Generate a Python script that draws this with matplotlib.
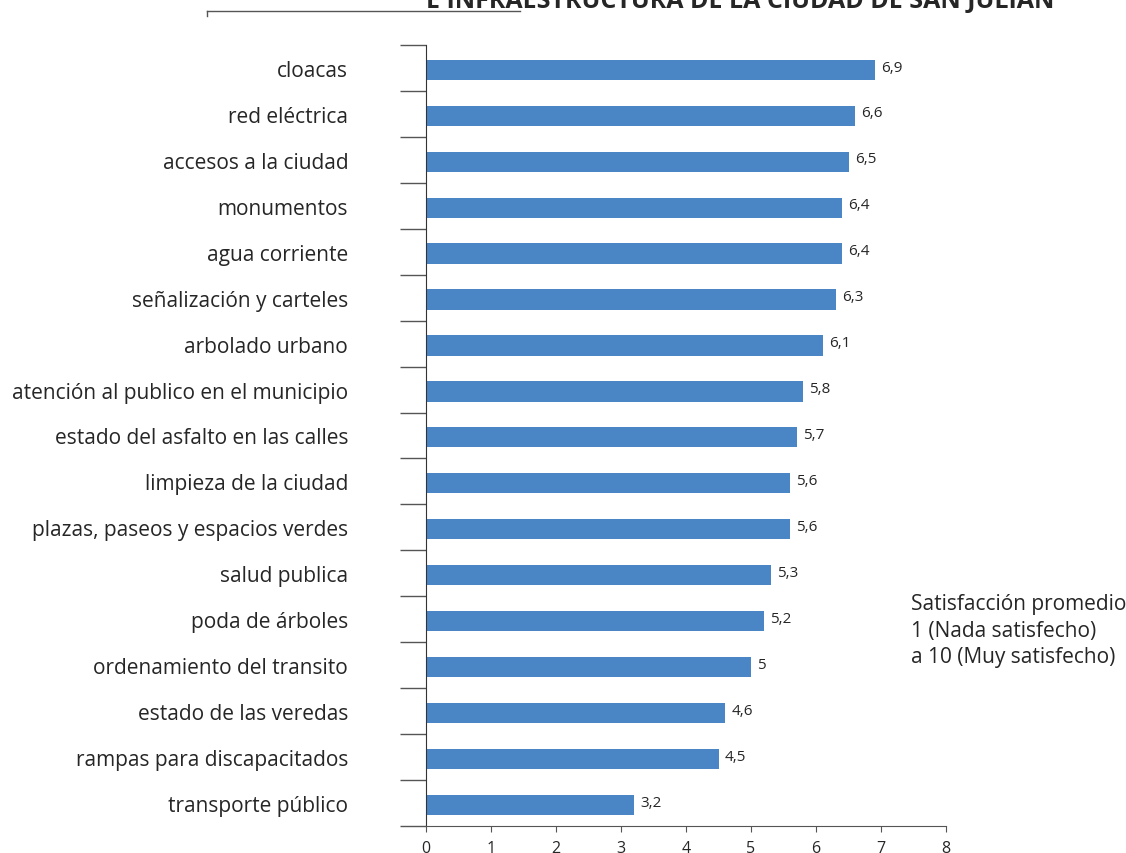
import numpy as np
import matplotlib.pyplot as plt

categorias = ["cloacas", "red eléctrica", "accesos a la ciudad", "monumentos",
              "agua corriente", "señalización y carteles", "arbolado urbano",
              "atención al publico en el municipio", "estado del asfalto en las calles",
              "limpieza de la ciudad", "plazas, paseos y espacios verdes",
              "salud publica", "poda de árboles", "ordenamiento del transito",
              "estado de las veredas", "rampas para discapacitados",
              "transporte público"]
valores = [6.9, 6.6, 6.5, 6.4, 6.4, 6.3, 6.1, 5.8, 5.7, 5.6, 5.6, 5.3, 5.2, 5.0,
           4.6, 4.5, 3.2]
etiquetas = ["6,9", "6,6", "6,5", "6,4", "6,4", "6,3", "6,1", "5,8", "5,7", "5,6",
             "5,6", "5,3", "5,2", "5", "4,6", "4,5", "3,2"]

plt.rcParams['font.family'] = ['Open Sans', 'DejaVu Sans']

fig = plt.figure(figsize=(11.26, 8.54), dpi=100)
ax = fig.add_axes([426/1126, 1 - 827/854, 520/1126, 781/854])

n = len(categorias)
y = np.arange(n)
ax.barh(y + 0.04, valores, height=0.44, color="#4A86C5")
for yi, v, t in zip(y, valores, etiquetas):
    ax.text(v + 0.1, yi - 0.02, t, va="center", ha="left", fontsize=11, color="#262626")

ax.set_ylim(n - 0.5, -0.5)
ax.set_xlim(0, 8)
ax.set_yticks(y)
ax.set_yticklabels(categorias, fontsize=15, color="#262626")
ax.set_yticks(np.arange(-0.5, n, 1), minor=True)
ax.tick_params(axis="y", which="major", length=0, pad=56)
ax.tick_params(axis="y", which="minor", length=19, width=1, color="#555555")
ax.set_xticks(range(0, 9))
ax.tick_params(axis="x", length=4, color="#555555", labelsize=11.5, labelcolor="#262626", pad=6)

for s in ["top", "right"]:
    ax.spines[s].set_visible(False)
ax.spines["left"].set_color("#333333")
ax.spines["bottom"].set_color("#555555")

fig.text(911/1126, 1 - 631/854,
         "Satisfacción promedio\n1 (Nada satisfecho)\na 10 (Muy satisfecho)",
         fontsize=15, va="center", ha="left", color="#262626", linespacing=1.35)

fig.text(740/1126, 1 - 1/854, "E INFRAESTRUCTURA DE LA CIUDAD DE SAN JULIAN",
         fontsize=18, fontweight="bold", ha="center", va="center", color="#262626")
fig.add_artist(plt.Line2D([207/1126, 520/1126], [1 - 12/854, 1 - 12/854],
                          color="#555555", lw=1, transform=fig.transFigure))
fig.add_artist(plt.Line2D([207/1126, 207/1126], [1 - 12/854, 1 - 17/854],
                          color="#555555", lw=1, transform=fig.transFigure))

fig.savefig("out.png", dpi=100)
